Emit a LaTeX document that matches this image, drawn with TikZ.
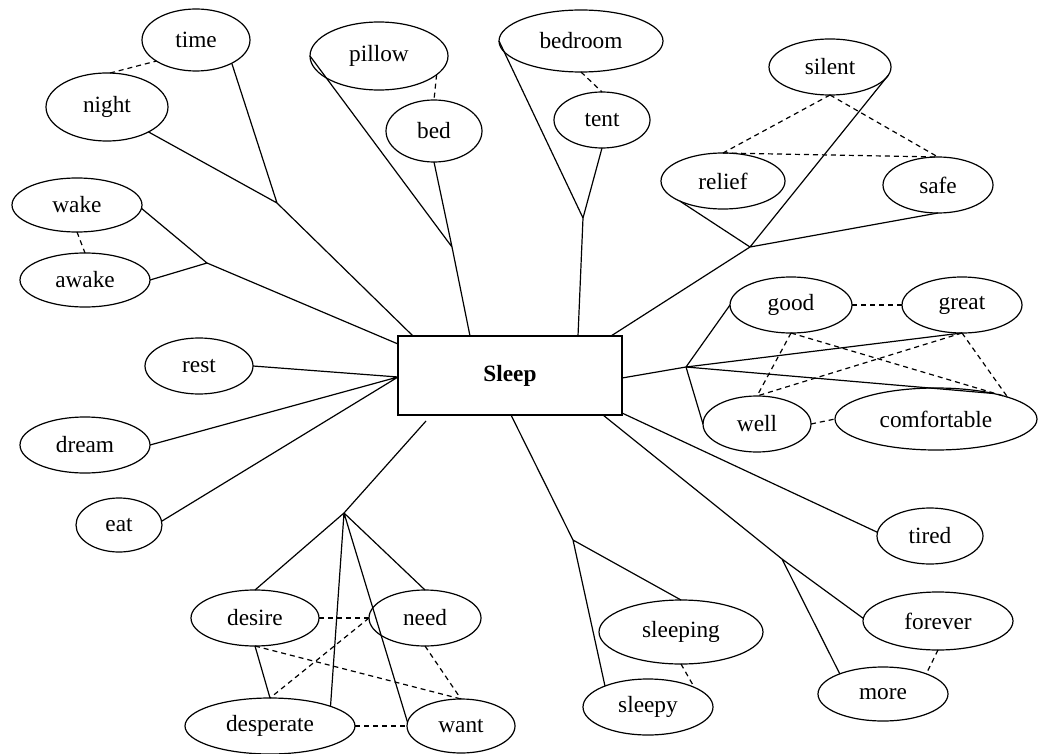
\documentclass[tikz,border=0pt]{standalone}
\usepackage{fontspec}
\setmainfont{Liberation Serif}
\usetikzlibrary{shapes.geometric,calc}

\newcommand{\wordfont}{\fontsize{23.3}{28}\selectfont}

\tikzset{
  word/.style={ellipse, draw, line width=1.2pt, inner sep=0pt, outer sep=0pt},
  centre/.style={rectangle, draw, line width=2.6pt, inner sep=0pt, outer sep=0pt,
    minimum width=224pt, minimum height=79pt, font=\wordfont\bfseries},
  link/.style={line width=1.2pt},
  assoc/.style={line width=1.2pt, dash pattern=on 5pt off 4pt},
}

\begin{document}
\begin{tikzpicture}[x=1pt, y=-1pt, font=\wordfont]
\useasboundingbox (0,0) rectangle (1038,754);

% central concept
\node[centre] (Sleep) at (510,375.5) {Sleep};

% associated words
\node[word, minimum width=108pt, minimum height=62pt] (time) at (196,40) {time};
\node[word, minimum width=122pt, minimum height=68pt] (night) at (107,107) {night};
\node[word, minimum width=138pt, minimum height=68pt] (pillow) at (379,56) {pillow};
\node[word, minimum width=96pt, minimum height=62pt] (bed) at (434,131) {bed};
\node[word, minimum width=130pt, minimum height=54pt] (wake) at (77,205) {wake};
\node[word, minimum width=130pt, minimum height=54pt] (awake) at (85,280) {awake};
\node[word, minimum width=164pt, minimum height=62pt] (bedroom) at (581,41) {bedroom};
\node[word, minimum width=96pt, minimum height=56pt] (tent) at (602,120) {tent};
\node[word, minimum width=122pt, minimum height=56pt] (silent) at (830,67) {silent};
\node[word, minimum width=124pt, minimum height=56pt] (relief) at (723,181) {relief};
\node[word, minimum width=110pt, minimum height=56pt] (safe) at (938,185) {safe};
\node[word, minimum width=122pt, minimum height=56pt] (good) at (791,305) {good};
\node[word, minimum width=120pt, minimum height=56pt] (great) at (962,305) {great};
\node[word, minimum width=108pt, minimum height=56pt] (well) at (757,424) {well};
\node[word, minimum width=202pt, minimum height=62pt] (comfortable) at (936,419) {comfortable};
\node[word, minimum width=106pt, minimum height=56pt] (tired) at (930,536) {tired};
\node[word, minimum width=150pt, minimum height=58pt] (forever) at (938,621) {forever};
\node[word, minimum width=130pt, minimum height=54pt] (more) at (883,694) {more};
\node[word, minimum width=164pt, minimum height=64pt] (sleeping) at (681,632) {sleeping};
\node[word, minimum width=130pt, minimum height=56pt] (sleepy) at (648,707) {sleepy};
\node[word, minimum width=108pt, minimum height=56pt] (rest) at (199,366) {rest};
\node[word, minimum width=130pt, minimum height=56pt] (dream) at (85,445) {dream};
\node[word, minimum width=86pt, minimum height=54pt] (eat) at (119,525) {eat};
\node[word, minimum width=128pt, minimum height=56pt] (desire) at (255,618) {desire};
\node[word, minimum width=112pt, minimum height=56pt] (need) at (425,618) {need};
\node[word, minimum width=170pt, minimum height=56pt] (desperate) at (270,726) {desperate};
\node[word, minimum width=108pt, minimum height=54pt] (want) at (461,726) {want};

% branching points
\coordinate (jTN) at (277,203);
\coordinate (jWA) at (207,263);
\coordinate (jPB) at (452,247);
\coordinate (jBT) at (583,218);
\coordinate (jSR) at (750,247);
\coordinate (jGG) at (686,367);
\coordinate (jFM) at (782,559);
\coordinate (jSS) at (573,540);
\coordinate (jDN) at (344,513);

% points on the central box
\coordinate (sTN) at ($(Sleep.north west)+(15,0)$);
\coordinate (sPB) at ($(Sleep.north west)+(72,0)$);
\coordinate (sBT) at ($(Sleep.north west)+(180,0)$);
\coordinate (sSR) at ($(Sleep.north west)+(213,0)$);
\coordinate (sWA) at ($(Sleep.north west)+(0,8)$);
\coordinate (sL)  at ($(Sleep.north west)+(0,41)$);
\coordinate (sGG) at ($(Sleep.north east)+(0,42)$);
\coordinate (sTI) at ($(Sleep.south east)+(0,-2)$);
\coordinate (sFM) at ($(Sleep.south west)+(205,0)$);
\coordinate (sSS) at ($(Sleep.south west)+(113,0)$);
\coordinate (sDN) at ($(Sleep.south west)+(28,6)$);

% solid branches
\draw[link] (time.-33) -- (jTN) (night.-31) -- (jTN) (jTN) -- (sTN);
\draw[link] (wake.-3) -- (jWA) (awake.east) -- (jWA) (jWA) -- (sWA);
\draw[link] (pillow.west) -- (jPB) (bed.south) -- (jPB) (jPB) -- (sPB);
\draw[link] (bedroom.west) -- (jBT) (tent.south) -- (jBT) (jBT) -- (sBT);
\draw[link] (silent.-8) -- (jSR) (relief.-155) -- (jSR) (safe.south) -- (jSR) (jSR) -- (sSR);
\draw[link] (rest.east) -- (sL) (dream.east) -- (sL) (eat.5) -- (sL);
\draw[link] (sGG) -- (jGG) -- (great.south);
\draw[link] (jGG) -- (good.west) (jGG) -- (well.west) (jGG) -- (comfortable.24);
\draw[link] (sTI) -- (tired.176);
\draw[link] (sFM) -- (jFM) -- (forever.178) (jFM) -- (more.155);
\draw[link] (sSS) -- (jSS) -- (sleeping.north) (jSS) -- (sleepy.154);
\draw[link] (sDN) -- (jDN);
\draw[link] (jDN) -- (desire.north) (jDN) -- (need.north)
  (jDN) -- (desperate.18) (jDN) -- (want.176);
\draw[link] (desire.south) -- (desperate.north);

% dashed associations
\draw[assoc] (night.85) -- (time.-152);
\draw[assoc] (pillow.-18) -- (bed.north);
\draw[assoc] (wake.south) -- (awake.north);
\draw[assoc] (bedroom.south) -- (tent.north);
\draw[assoc] (silent.south) -- (relief.north);
\draw[assoc] (silent.south) -- (safe.north);
\draw[assoc] (relief.north) -- (safe.north);
\draw[assoc] (good.east) -- (great.west);
\draw[assoc] (good.south) -- (well.north);
\draw[assoc] (great.south) -- (well.north);
\draw[assoc] (good.south) -- (comfortable.17);
\draw[assoc] (great.south) -- (comfortable.17);
\draw[assoc] (well.east) -- (comfortable.west);
\draw[assoc] (forever.south) -- (more.25);
\draw[assoc] (sleeping.south) -- (sleepy.23);
\draw[assoc] (desire.east) -- (need.west);
\draw[assoc] (need.west) -- (desperate.north);
\draw[assoc] (desire.south) -- (want.north);
\draw[assoc] (need.south) -- (want.north);
\draw[assoc] (desperate.east) -- (want.west);
\end{tikzpicture}
\end{document}
